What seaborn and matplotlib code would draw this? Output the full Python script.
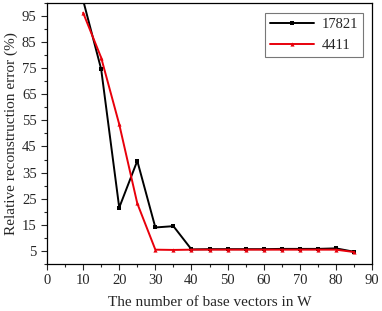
import numpy as np
import pandas as pd
import matplotlib
matplotlib.use("Agg")
import matplotlib.pyplot as plt
import seaborn as sns
from matplotlib.ticker import MultipleLocator

# base vector counts
x_vals = [10, 15, 20, 25, 30, 35, 40, 45, 50, 55, 60, 65, 70, 75, 80, 85]
# relative reconstruction error (%)
err_17821 = [101, 74.6, 21.6, 39.5, 14.0, 14.5, 5.6, 5.7, 5.7, 5.7, 5.7, 5.8, 5.8, 5.8, 6.0, 4.7]
err_4411 = [96.2, 79.0, 53.5, 23.2, 5.5, 5.4, 5.5, 5.5, 5.5, 5.5, 5.5, 5.5, 5.5, 5.5, 5.5, 4.6]
series_names = ["17821", "4411"]

df = pd.concat([
    pd.DataFrame({"W": x_vals, "err": err_17821, "series": series_names[0]}),
    pd.DataFrame({"W": x_vals, "err": err_4411, "series": series_names[1]}),
])

sns.set_style("ticks")
plt.rcParams["font.family"] = ["Liberation Serif", "DejaVu Serif"]

fig = plt.figure(figsize=(3.82, 3.11), dpi=100)
ax = fig.add_axes([0.123, 0.151, 0.851, 0.84])

sns.lineplot(data=df, x="W", y="err", hue="series", style="series",
             palette={"17821": "black", "4411": "#e8000b"},
             markers={"17821": "s", "4411": "^"}, dashes=False,
             markersize=3, linewidth=1.4, markeredgewidth=0, ax=ax)

ax.set_xlim(0, 90)
ax.set_ylim(0, 100)
ax.set_xticks(range(0, 91, 10))
ax.set_yticks(range(5, 100, 10))
ax.xaxis.set_minor_locator(MultipleLocator(5))
ax.yaxis.set_minor_locator(MultipleLocator(5))
ax.tick_params(which="major", direction="out", length=4, width=0.8, labelsize=10.5,
               top=False, right=False)
ax.tick_params(which="minor", direction="out", length=2, width=0.8, top=False, right=False)
for s in ax.spines.values():
    s.set_linewidth(0.9)
    s.set_color("black")

ax.set_xlabel("The number of base vectors in W", fontsize=11, labelpad=6)
ax.set_ylabel("Relative reconstruction error (%)", fontsize=11, labelpad=3)

leg = ax.legend(title=None, loc="upper right", bbox_to_anchor=(0.972, 0.962),
                borderaxespad=0, fontsize=10.5, frameon=True, fancybox=False,
                edgecolor="#555555", handlelength=3.0, handletextpad=0.5,
                borderpad=0.35, labelspacing=0.55)
leg.get_frame().set_linewidth(0.8)

fig.savefig("out.png", dpi=100)
